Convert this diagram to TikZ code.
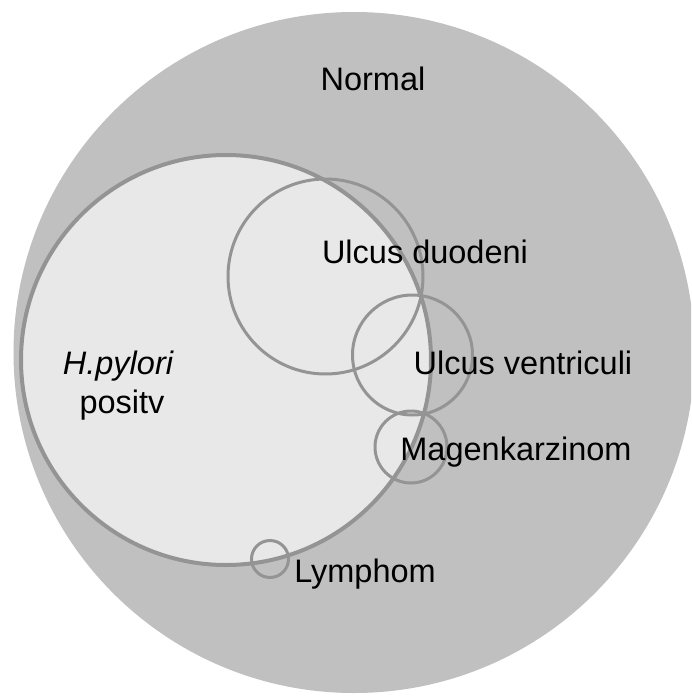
\documentclass[tikz,border=0pt]{standalone}
\usepackage{fontspec}
\setmainfont{Liberation Sans}
\definecolor{bgout}{RGB}{255,255,255}
\definecolor{normalfill}{RGB}{192,192,192}
\definecolor{hpfill}{RGB}{232,232,232}
\definecolor{ring}{RGB}{148,148,148}
\begin{document}
\begin{tikzpicture}[x=1pt,y=-1pt,
  lbl/.style={anchor=base,inner sep=0pt,font=\fontsize{32.5}{38}\selectfont,text=black},
  ringline/.style={draw=ring,line width=3pt},
  hpline/.style={draw=ring,line width=4pt}]
\useasboundingbox (0,0) rectangle (691,696);
\clip (0,0) rectangle (691,696);
\fill[white] (0,0) rectangle (691,696);
% Normal population
\fill[normalfill] (354,352.5) circle (340.5);
% H. pylori positive
\filldraw[fill=hpfill,hpline] (226,360) circle (205);
% sub-groups
\draw[ringline] (325.5,276.5) circle (97.5);
\draw[ringline] (412.5,355) circle (60);
\draw[ringline] (411,447) circle (36);
\draw[ringline] (270,559) circle (18.5);
% labels
\node[lbl] (normal) at (373,90) {Normal};
\node[lbl] (duod) at (425,263) {Ulcus duodeni};
\node[lbl] (hp) at (118,374) {\itshape H.pylori};
\node[lbl] (pos) at (122,413) {positv};
\node[lbl] (vent) at (523,374) {Ulcus ventriculi};
\node[lbl] (mag) at (516,460) {Magenkarzinom};
\node[lbl] (lym) at (365,582) {Lymphom};
\end{tikzpicture}
\end{document}
